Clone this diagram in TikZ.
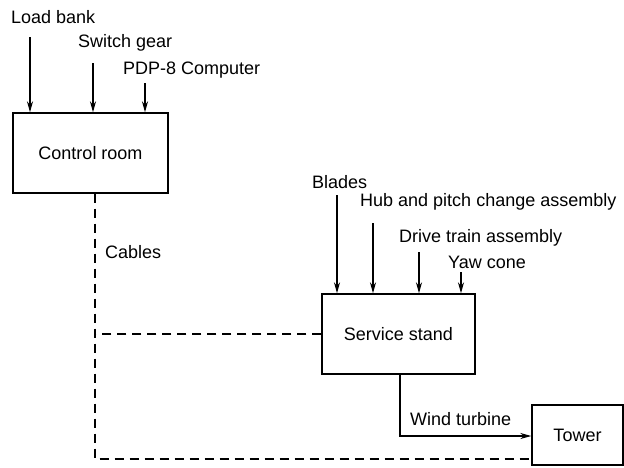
\documentclass[tikz,border=0pt]{standalone}
\usepackage{fontspec}
\setmainfont{Liberation Sans}
\usetikzlibrary{arrows.meta}
\tikzset{
    blockbox/.style={draw, line width=1.4pt, inner sep=0pt, font=\fontsize{18}{20}\selectfont},
    feed/.style={-{Stealth[length=11pt,width=6pt]}, line width=1.4pt},
    cableline/.style={dashed, dash pattern=on 9pt off 6pt, line width=1.4pt},
    lbl/.style={anchor=west, inner sep=0pt, font=\fontsize{18}{20}\selectfont}
}

\begin{document}
\begin{tikzpicture}[x=1pt,y=-1pt]
    \useasboundingbox (0,0) rectangle (624,467);
    % boxes
    \node[blockbox, minimum width=155pt, minimum height=80pt] (control) at (90.5,153) {Control room};
    \node[blockbox, minimum width=153pt, minimum height=80pt] (stand) at (398.5,334) {Service stand};
    \node[blockbox, minimum width=91pt, minimum height=60pt] (tower) at (577.5,435) {Tower};
    % inputs to the control room
    \node[lbl] (loadbank) at (11,17) {Load bank};
    \node[lbl] (switchgear) at (78,43) {Switch gear};
    \node[lbl] (pdp) at (123,70) {PDP-8 Computer};
    \coordinate (lbtop) at (30,37);
    \coordinate (sgtop) at (93,63);
    \coordinate (pdptop) at (145,83);
    \draw[feed] (lbtop) -- (lbtop |- control.north);
    \draw[feed] (sgtop) -- (sgtop |- control.north);
    \draw[feed] (pdptop) -- (pdptop |- control.north);
    % inputs to the service stand
    \node[lbl] (blades) at (312,182) {Blades};
    \node[lbl] (hub) at (360,202) {Hub and pitch change assembly};
    \node[lbl] (drive) at (399,238) {Drive train assembly};
    \node[lbl] (yaw) at (448,262) {Yaw cone};
    \coordinate (bltop) at (337,195);
    \coordinate (hubtop) at (373,223);
    \coordinate (drtop) at (419,252);
    \coordinate (yawtop) at (461,272);
    \draw[feed] (bltop) -- (bltop |- stand.north);
    \draw[feed] (hubtop) -- (hubtop |- stand.north);
    \draw[feed] (drtop) -- (drtop |- stand.north);
    \draw[feed] (yawtop) -- (yawtop |- stand.north);
    % cables
    \coordinate (cbend) at (95,459);
    \draw[cableline] (control.south -| cbend) -- (cbend) -- (cbend -| tower.west);
    \draw[cableline] (stand.west) -- (stand.west -| cbend);
    \node[lbl] (cables) at (105,252) {Cables};
    % wind turbine to tower
    \coordinate (wtbend) at (400,436);
    \draw[feed] (stand.south -| wtbend) -- (wtbend) -- (wtbend -| tower.west);
    \node[lbl] (turbine) at (410,419) {Wind turbine};
\end{tikzpicture}
\end{document}
